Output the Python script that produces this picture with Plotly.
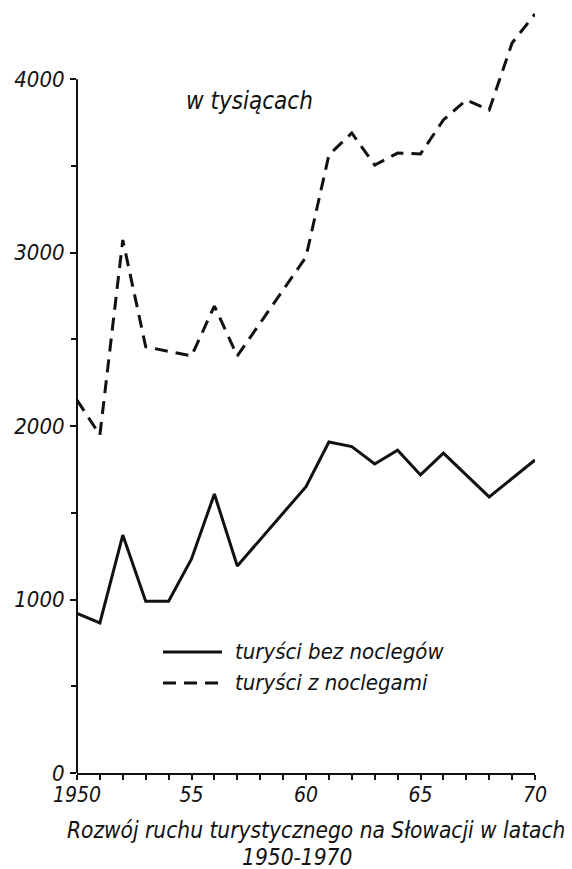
import plotly.graph_objects as go

# Data (thousands of tourists)
years_bez = [1950, 1951, 1952, 1953, 1954, 1955, 1956, 1957, 1960, 1961, 1962,
             1963, 1964, 1965, 1966, 1968, 1970]
turysci_bez_noclegow = [920, 865, 1372, 990, 990, 1234, 1609, 1194, 1651, 1909,
                        1882, 1782, 1862, 1719, 1845, 1592, 1805]

years_z = [1950, 1951, 1952, 1953, 1955, 1956, 1957, 1960, 1961, 1962, 1963,
           1964, 1965, 1966, 1967, 1968, 1969, 1970]
turysci_z_noclegami = [2151, 1949, 3074, 2458, 2405, 2693, 2405, 2976, 3564,
                       3691, 3506, 3575, 3570, 3766, 3881, 3823, 4210, 4377]

x_tickvals = [1950, 1955, 1960, 1965, 1970]
x_ticktext = ["1950", "55", "60", "65", "70"]
y_tickvals = [0, 1000, 2000, 3000, 4000]
y_ticktext = ["0", "1000", "2000", "3000", "4000"]

FONT = "DejaVu Sans Condensed"
INK = "#111111"
DASH = "13px,8px"

fig = go.Figure()
fig.add_trace(go.Scatter(
    x=years_bez, y=turysci_bez_noclegow, mode="lines",
    name="turyści bez noclegów",
    line=dict(color=INK, width=3)))
fig.add_trace(go.Scatter(
    x=years_z, y=turysci_z_noclegami, mode="lines",
    name="turyści z noclegami",
    line=dict(color=INK, width=3, dash=DASH)))

# page body has an 8px margin, so the figure is sized to fit the window
fig.update_layout(
    width=564, height=861,
    margin=dict(l=69, r=37, t=2, b=96),
    paper_bgcolor="white", plot_bgcolor="white",
    font=dict(family=FONT, color=INK, style="italic"),
    showlegend=False,
    xaxis=dict(range=[1950, 1970], showgrid=False, zeroline=False,
               showline=True, linecolor=INK, linewidth=2,
               ticks="outside", ticklen=5, tickwidth=1.5, tickcolor=INK,
               tickvals=x_tickvals, ticktext=x_ticktext,
               ticklabelstandoff=-3,
               tickfont=dict(family=FONT, size=21, color=INK, style="italic"),
               minor=dict(dtick=1, tick0=1950, ticks="outside", ticklen=5,
                          tickwidth=1.5, tickcolor=INK),
               fixedrange=True),
    yaxis=dict(range=[0, 4400], showgrid=False, zeroline=False,
               showline=False,
               ticks="outside", ticklen=6, tickwidth=1.5, tickcolor=INK,
               tickvals=y_tickvals, ticktext=y_ticktext,
               ticklabelstandoff=1,
               tickfont=dict(family=FONT, size=22, color=INK, style="italic"),
               minor=dict(dtick=500, tick0=0, ticks="outside", ticklen=5,
                          tickwidth=1.5, tickcolor=INK),
               fixedrange=True),
)

# y axis line only up to 4000
fig.add_shape(type="line", xref="paper", yref="y", x0=0, x1=0, y0=0, y1=4000,
              line=dict(color=INK, width=2))

# legend drawn as in the original (long line samples)
legend_items = [("turyści bez noclegów", None, 0.1586),
                ("turyści z noclegami", DASH, 0.118)]
for label, dash, ly in legend_items:
    fig.add_shape(type="line", xref="paper", yref="paper",
                  x0=0.1878, x1=0.3166, y0=ly, y1=ly,
                  line=dict(color=INK, width=3, dash=dash))
    fig.add_annotation(text=label, xref="paper", yref="paper",
                       x=0.3406, y=ly, xanchor="left", yanchor="middle",
                       showarrow=False,
                       font=dict(family=FONT, size=22, color=INK,
                                 style="italic"))

fig.add_annotation(text="w tysiącach", xref="paper", yref="paper",
                   x=0.376, y=0.902, showarrow=False,
                   font=dict(family=FONT, size=24, color=INK, style="italic"))
fig.add_annotation(text="Rozwój ruchu turystycznego na Słowacji w latach",
                   xref="paper", yref="paper", x=0.522, y=-0.0747,
                   showarrow=False, yanchor="middle",
                   font=dict(family=FONT, size=22.5, color=INK,
                             style="italic"))
fig.add_annotation(text="1950-1970", xref="paper", yref="paper",
                   x=0.48, y=-0.110, showarrow=False, yanchor="middle",
                   font=dict(family=FONT, size=22.5, color=INK,
                             style="italic"))

fig.write_html("out.html")
